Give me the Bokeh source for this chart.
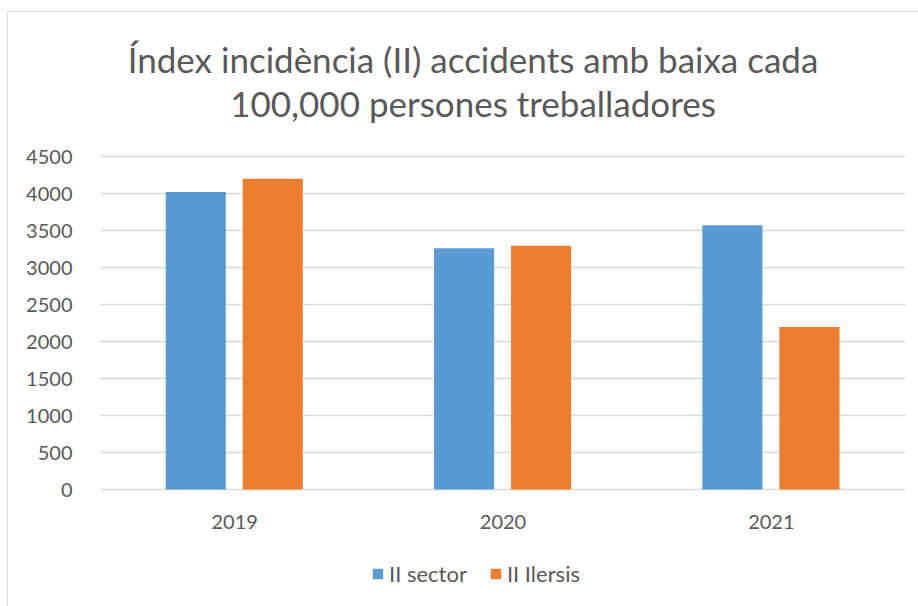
from bokeh.plotting import figure
from bokeh.models import ColumnDataSource, FactorRange, Range1d, Legend, LegendItem, FixedTicker
from bokeh.core.properties import value
from bokeh.transform import dodge
from bokeh.embed import file_html
from bokeh.resources import INLINE

years = ["2019", "2020", "2021"]
ii_sector = [4020, 3260, 3570]
ii_ilersis = [4200, 3295, 2195]
series_names = ["II sector", "II Ilersis"]
title_lines = ["Índex incidència (II) accidents amb baixa cada", "100,000 persones treballadores"]
y_ticks = [0, 500, 1000, 1500, 2000, 2500, 3000, 3500, 4000, 4500]

FONT = "Lato"
GREY = "#595959"

# layout (pixels): value axis 0 at py=489, 4500 at py=156; frame spans py 12..606
FIG_TOP = 12
ZERO_PY, TOP_PY, BOTTOM_PY = 489, 156, 606
UNIT = (ZERO_PY - TOP_PY) / max(y_ticks)
def py_to_val(py):
    return (ZERO_PY - py) / UNIT

y_start = py_to_val(BOTTOM_PY)
y_end = py_to_val(FIG_TOP)

src = ColumnDataSource(dict(years=years, sector=ii_sector, ilersis=ii_ilersis))

p = figure(x_range=FactorRange(*years), y_range=Range1d(y_start, y_end),
           frame_width=805, frame_height=BOTTOM_PY - FIG_TOP,
           output_backend="svg", toolbar_location=None,
           min_border_left=92, min_border_right=13, min_border_top=0, min_border_bottom=0)
p.margin = (11, 0, 0, 7)
p.styles = {"border-left": "1px solid #d9d9d9", "border-top": "1px solid #d9d9d9"}
p.outline_line_color = None
p.border_fill_color = "white"
p.xaxis.visible = False

r1 = p.vbar(x=dodge("years", -0.145, range=p.x_range), top="sector", width=0.224, source=src,
            fill_color="#5B9BD5", line_color=None)
r2 = p.vbar(x=dodge("years", 0.142, range=p.x_range), top="ilersis", width=0.224, source=src,
            fill_color="#ED7D31", line_color=None)

# category labels under the zero line
p.text(x=years, y=[py_to_val(521)] * len(years), text=years, text_align="center",
       text_baseline="middle", text_font=value(FONT), text_font_size="20px", text_color=GREY)

# two-line title, centred on the chart area
p.text(x=["2020", "2020"], y=[py_to_val(58), py_to_val(102)], text=title_lines,
       x_offset=-30, text_align="center", text_baseline="middle",
       text_font=value(FONT), text_font_size="35px", text_color=GREY)

ax = p.yaxis[0]
ax.ticker = FixedTicker(ticks=y_ticks)
ax.axis_line_color = None
ax.major_tick_line_color = None
ax.minor_tick_line_color = None
ax.major_label_text_font = FONT
ax.major_label_text_font_size = "20px"
ax.major_label_text_color = GREY
ax.major_label_standoff = 22
p.xgrid.grid_line_color = None
p.ygrid.ticker = FixedTicker(ticks=y_ticks)
p.ygrid.grid_line_color = "#d9d9d9"
p.ygrid.grid_line_width = 1.5

legend = Legend(items=[LegendItem(label=series_names[0], renderers=[r1]),
                       LegendItem(label=series_names[1], renderers=[r2])],
                orientation="horizontal", location=(271, 19),
                label_text_font=FONT, label_text_font_size="22px", label_text_color=GREY,
                glyph_width=13, glyph_height=13, label_standoff=5, spacing=22,
                border_line_color=None, background_fill_alpha=0, padding=0, margin=0)
p.add_layout(legend, "center")

open("out.html", "w").write(file_html(p, INLINE))
